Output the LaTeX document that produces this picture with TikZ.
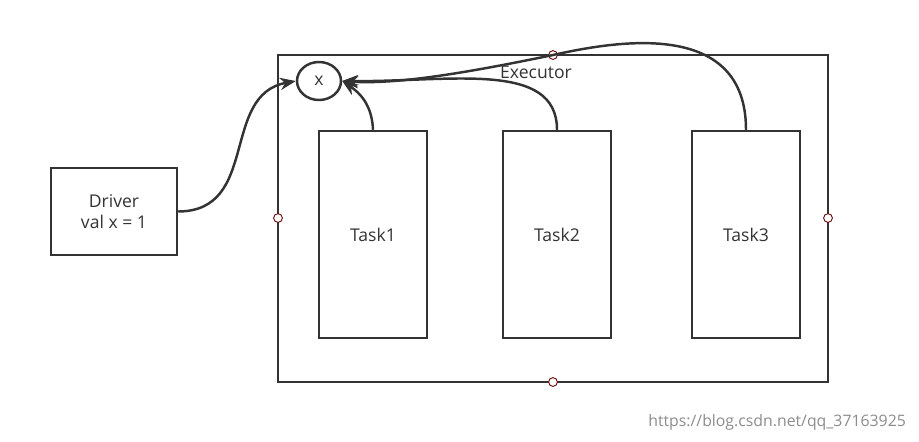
\documentclass[tikz,border=0pt]{standalone}
\usepackage{fontspec}
\setmainfont{Open Sans}
\usetikzlibrary{arrows.meta,shapes.geometric}
\begin{document}
\begin{tikzpicture}[x=0.02cm,y=-0.02cm,
  box/.style={draw=black!80,line width=1.4pt,inner sep=0},
  lbl/.style={font=\fontsize{10}{12}\selectfont,text=black!80},
  conn/.style={draw=black!80,line width=1.4pt,-{Stealth[length=9pt,width=7pt]}},
  pt/.style={circle,draw=red!40!black,fill=white,line width=0.5pt,minimum size=5pt,inner sep=0}]
\useasboundingbox (0,0) rectangle (919,441);
\node[box,minimum width=126*0.02cm,minimum height=87*0.02cm,align=center,lbl] (drv) at (114,211.5) {Driver\\val x = 1};
\node[box,minimum width=550*0.02cm,minimum height=327*0.02cm] (ex) at (553,218.5) {};
\node[lbl] (exl) at (536,72) {Executor};
\node[box,ellipse,minimum width=44*0.02cm,minimum height=38*0.02cm,lbl] (x) at (319,81) {x};
\node[box,minimum width=108*0.02cm,minimum height=207*0.02cm,lbl] (t1) at (373,234.5) {Task1};
\node[box,minimum width=108*0.02cm,minimum height=207*0.02cm,lbl] (t2) at (557,234.5) {Task2};
\node[box,minimum width=108*0.02cm,minimum height=207*0.02cm,lbl] (t3) at (746,234.5) {Task3};
\node[pt] (p1) at (553,55) {};
\node[pt] (p2) at (278,218) {};
\node[pt] (p3) at (828,218) {};
\node[pt] (p4) at (553,382) {};
\draw[conn] (drv.east) .. controls (260,211) and (220,95) .. (x.west);
\draw[conn] (t1.north) .. controls (372,105) and (360,93) .. (x.east);
\draw[conn] (t2.north) .. controls (557,60) and (450,82) .. (x.east);
\draw[conn] (t3.north) .. controls (746,20) and (620,40) .. (553,55) .. controls (480,70) and (400,85) .. (x.east);
\node[font=\fontsize{9}{11}\selectfont,text=black!45,anchor=east] (wm) at (912,422) {https://blog.csdn.net/qq\_37163925};
\end{tikzpicture}
\end{document}
